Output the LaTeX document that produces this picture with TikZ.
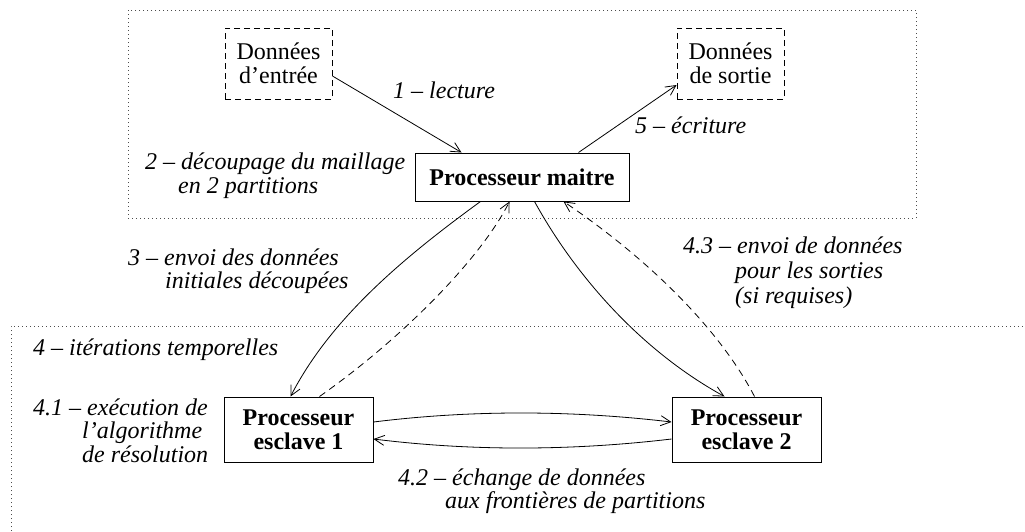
\documentclass[tikz,border=0pt]{standalone}
\usepackage{fontspec}
\setmainfont{Liberation Serif}
\usetikzlibrary{arrows.meta}
\begin{document}
\begin{tikzpicture}[x=1pt,y=-1pt,
  procbox/.style={draw, line width=1pt, inner sep=0pt, align=center,
    font=\fontsize{24}{24}\selectfont\bfseries},
  databox/.style={draw, line width=0.9pt, dash pattern=on 6pt off 4pt, inner sep=0pt, align=center,
    minimum width=107pt, minimum height=71pt, font=\fontsize{24}{24}\selectfont},
  lbl/.style={anchor=base west, inner sep=0pt, font=\fontsize{24}{24}\selectfont\itshape},
  conn/.style={line width=0.8pt, -{Straight Barb[length=10pt,width=10pt]}},
  dconn/.style={conn, dash pattern=on 7pt off 5pt},
  region/.style={line width=0.9pt, black!70, dash pattern=on 1pt off 3pt}]
\useasboundingbox (0,0) rectangle (1025,531);

% regions
\draw[region] (128,10) rectangle (916,218);
\draw[region] (11,531) -- (11,326) -- (1025,326);

% nodes
\node[databox] (entree) at (278.5,63.5) {Données\\d’entrée};
\node[databox] (sortie) at (730.5,63.5) {Données\\de sortie};
\node[procbox, minimum width=214pt, minimum height=48pt] (maitre) at (522,177) {Processeur maitre};
\node[procbox, minimum width=149pt, minimum height=65pt] (esc1) at (298.5,429.5) {Processeur\\esclave 1};
\node[procbox, minimum width=149pt, minimum height=65pt] (esc2) at (746.5,429.5) {Processeur\\esclave 2};

% labels
\node[lbl] (l1) at (393,98) {1 – lecture};
\node[lbl] (l5) at (635,133) {5 – écriture};
\node[lbl] (l2a) at (145,169) {2 – découpage du maillage};
\node[lbl] (l2b) at (178,193) {en 2 partitions};
\node[lbl] (l3a) at (128,265) {3 – envoi des données};
\node[lbl] (l3b) at (165,288) {initiales découpées};
\node[lbl] (l43a) at (683,253) {4.3 – envoi de données};
\node[lbl] (l43b) at (735,278) {pour les sorties};
\node[lbl] (l43c) at (735,303) {(si requises)};
\node[lbl] (l4) at (33,355) {4 – itérations temporelles};
\node[lbl] (l41a) at (33,415) {4.1 – exécution de};
\node[lbl] (l41b) at (82,438) {l’algorithme};
\node[lbl] (l41c) at (82,462) {de résolution};
\node[lbl] (l42a) at (398,485) {4.2 – échange de données};
\node[lbl] (l42b) at (445,508) {aux frontières de partitions};

% connectors
\draw[conn] ([yshift=-12.5pt]entree.east) -- ([xshift=47pt]maitre.north west);
\draw[conn] ([xshift=164pt]maitre.north west) -- ([yshift=-21.5pt]sortie.west);

\draw[conn] ([xshift=66pt]maitre.south west) .. controls (400,260) and (330,320) .. ([xshift=67pt]esc1.north west);
\draw[dconn] ([xshift=96pt]esc1.north west) .. controls (400,340) and (480,260) .. ([xshift=95pt]maitre.south west);
\draw[conn] ([xshift=120pt]maitre.south west) .. controls (575,275) and (640,350) .. ([xshift=53pt]esc2.north west);
\draw[dconn] ([xshift=83pt]esc2.north west) .. controls (720,330) and (650,260) .. ([xshift=149pt]maitre.south west);

\draw[conn] ([yshift=7.5pt]esc1.east) .. controls (470,410) and (570,410) .. ([yshift=7.5pt]esc2.west);
\draw[conn] ([yshift=-9.5pt]esc2.west) .. controls (570,451) and (470,451) .. ([yshift=-9.5pt]esc1.east);
\end{tikzpicture}
\end{document}
